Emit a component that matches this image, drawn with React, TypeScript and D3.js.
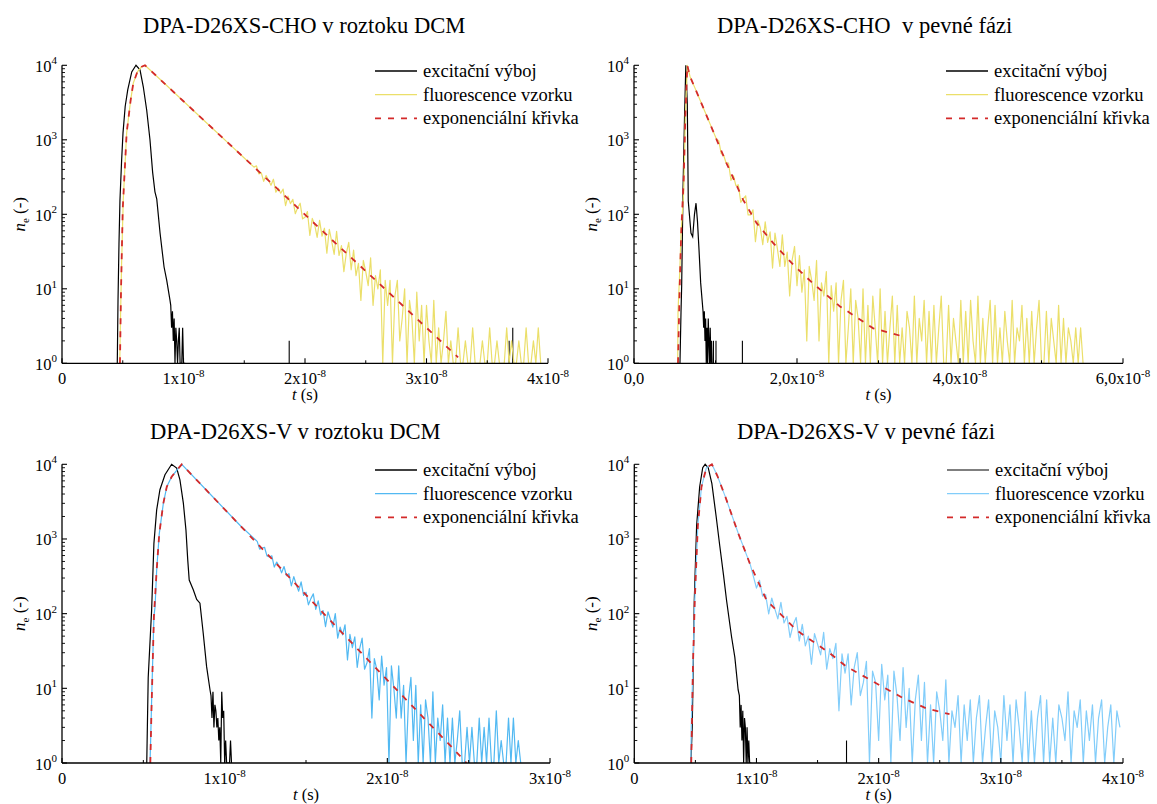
import React from "react";
import * as d3 from "d3";

type P = [number, number];

// ---------------- Panel 1: DPA-D26XS-CHO v roztoku DCM (time in ns) ----------------
const exc1Curve: P[] = [[4.55,1],[4.61,7],[4.69,40],[4.77,155],[4.9,500],[5.02,1230],[5.2,2800],[5.41,4680],[5.74,8150],[6.09,10000],[6.42,8700],[6.69,5150],[6.97,2510],[7.24,1000],[7.46,365],[7.65,200],[7.8,160],[8.07,56],[8.4,19.6],[8.62,13],[8.89,7]];
const exc1TailStart = 8.95, exc1TailStep = 0.07;
const exc1Tail = [6,3,5,2,4,0,3,2,0,2,3,0,1,0,3,0,1,0];
const exc1Spikes: P[] = [[18.7,2],[36.8,2],[37.1,3]];
const fluo1Curve: P[] = [[4.75,1],[4.8,3],[4.9,20],[5.04,155],[5.32,1230],[5.65,3400],[5.87,5780],[6.2,8140],[6.56,9560],[6.83,10000],[8,6650],[10,3290],[12,1630],[14,810],[15,570],[15.8,430]];
const fluo1TailStart = 16.0, fluo1TailStep = 0.2;
const fluo1Tail = [448,349,361,277,332,286,245,296,198,223,192,218,131,175,139,159,102,123,141,87,91,109,52,88,72,49,83,51,65,30,63,43,29,59,28,38,17,30,42,18,
  33,15,22,7,24,17,11,26,6,15,10,18,0,13,6,13,1,8,13,2,4,10,0,7,4,0,9,2,6,0,6,2,0,7,0,3,0,2,5,0,
  2,0,1,3,0,0,2,1,0,3,0,1,0,2,0,0,3,1,0,2,0,0,1,3,0,2,0,0,2,0,1,3,0,0,2,0,3,0];
const fit1: P[] = [[4.77,1],[4.86,10],[5.0,120],[5.32,1230],[5.65,3400],[5.87,5780],[6.2,8140],[6.56,9560],[6.83,10000],[10,3290],[14,810],[18,200],[22,49],[26,12.2],[30,3.0],[32.6,1.2]];

// ---------------- Panel 2: DPA-D26XS-CHO v pevné fázi ----------------
const exc2Curve: P[] = [[5.64,1],[5.77,5],[5.85,11],[6.01,200],[6.2,2000],[6.36,10000],[6.54,3000],[6.66,150],[6.99,56],[7.2,50],[7.42,100],[7.61,141],[7.79,80],[7.98,33],[8.18,12],[8.47,5]];
const exc2TailStart = 8.55, exc2TailStep = 0.08;
const exc2Tail = [3,5,2,4,1,3,0,4,2,1,3,0,2,0,1];
const exc2Spikes: P[] = [[9.75,2],[10.06,2],[13.3,2]];
const fluo2Curve: P[] = [[5.36,1],[5.4,5],[5.64,20],[5.77,56],[6.1,200],[6.3,2000],[6.54,10000],[6.87,7080],[7.5,4900],[8.5,2700],[9.5,1480],[10.15,1000]];
const fluo2TailStart = 10.4, fluo2TailStep = 0.3;
const fluo2Tail = [976,653,621,489,485,286,330,242,249,145,161,177,98,98,115,43,83,66,39,79,42,58,19,56,34,20,53,20,31,8,24,37,11,28,9,18,2,20,13,7,
  24,2,12,8,17,0,11,5,12,0,7,13,1,3,10,0,7,4,0,10,1,6,0,8,3,0,10,0,5,0,3,8,0,
  6,0,3,0,5,3,0,8,0,4,2,7,0,5,1,6,0,3,8,0,1,6,0,4,2,0,7,1,5,0,7,2,0,8,0,4,0,3,7,0,
  6,0,3,0,5,2,0,7,0,3,2,6,0,4,1,5,0,3,7,0,1,5,0,4,2,0,6,1,4,0,3,2,0,3,0,3,0];
const fit2: P[] = [[5.4,1],[5.6,10],[5.8,60],[6.1,300],[6.3,2000],[6.54,10000],[6.87,7080],[7.5,4900],[8.5,2700],[9.5,1480],[10.15,1000],[11.37,480],[13.41,155],[15.05,76],[17.09,41],[19.55,21],[22,11.7],[25.28,5.8],[29.36,2.95],[32.64,2.35]];

// ---------------- Panel 3: DPA-D26XS-V v roztoku DCM ----------------
const exc3Curve: P[] = [[5.21,1],[5.3,14],[5.51,112],[5.65,870],[5.82,2450],[6.02,4570],[6.33,7240],[6.74,10000],[7.05,8900],[7.25,6170],[7.46,3020],[7.62,1320],[7.73,525],[7.82,282],[8.07,209],[8.28,155],[8.48,138],[8.68,55],[8.89,19.5],[9.1,9.5]];
const exc3TailStart = 9.16, exc3TailStep = 0.06;
const exc3Tail = [8,4,9,3,6,5,3,4,2,3,1,9,4,5,0,2,0,0,0,0,2,0];
const exc3Spikes: P[] = [];
const fluo3Curve: P[] = [[5.41,1],[5.45,2],[5.51,7],[5.65,91],[5.72,123],[5.82,382],[5.98,1180],[6.23,3000],[6.44,5000],[6.74,6800],[7.05,8300],[7.36,10000],[9,4220],[11,1480]];
const fluo3TailStart = 12.0, fluo3TailStep = 0.15;
const fluo3Tail = [929,731,756,774,594,575,596,420,491,430,352,428,322,343,236,313,245,200,267,176,193,131,159,184,114,148,96,110,67,106,84,66,100,47,66,52,71,24,53,35,
  49,19,34,47,18,22,34,4,25,18,7,27,11,19,1,20,10,4,20,4,11,0,7,14,2,11,1,6,0,7,4,1,9,0,4,2,6,0,4,1,4,0,2,5,0,1,3,
  0,3,1,0,4,0,3,0,4,1,0,5,0,2,0,1,4,0,4,0,2,0];
const fit3: P[] = [[5.43,1],[5.5,5],[5.65,91],[5.82,382],[5.98,1180],[6.23,3000],[6.44,5000],[6.74,6800],[7.05,8300],[7.36,10000],[12,870],[16,105],[20,12.9],[24,1.6],[24.87,1]];

// ---------------- Panel 4: DPA-D26XS-V v pevné fázi ----------------
const exc4Curve: P[] = [[4.63,1],[4.74,3],[4.91,150],[5.1,1500],[5.35,5000],[5.6,9000],[5.8,10000],[6.05,9000],[6.35,5500],[6.7,2000],[7.0,800],[7.3,330],[7.55,151],[7.96,49],[8.23,26],[8.5,9.5]];
const exc4TailStart = 8.6, exc4TailStep = 0.07;
const exc4Tail = [8,3,6,2,5,1,4,3,0,3,0,2,1,0,0];
const exc4Spikes: P[] = [[17.37,2]];
const fluo4Curve: P[] = [[4.63,1],[4.66,3],[4.8,20],[4.95,150],[5.2,1500],[5.5,5000],[5.9,9000],[6.35,10000],[6.8,7000],[7.5,3500],[8.5,1200],[9.5,450]];
const fluo4TailStart = 10.0, fluo4TailStep = 0.25;
const fluo4Tail = [220,280,171,180,99,162,116,85,142,75,92,48,71,89,43,72,37,50,21,54,39,28,56,18,34,25,40,5,29,16,29,6,19,30,8,12,23,0,17,12,
  2,21,7,15,0,17,8,2,19,3,10,0,7,15,2,12,1,6,0,9,5,2,13,
  0,5,3,8,0,6,2,7,0,4,8,1,3,7,0,5,3,0,8,2,6,0,7,3,1,9,1,5,0,4,8,1,7,1,4,0,6,4,2,9,0,5,3,7,0,5,2,6,0,4,7,1,3,6,0,5,3];
const fit4: P[] = [[4.66,1],[4.8,20],[4.95,150],[5.2,1500],[5.5,5000],[5.9,9000],[6.35,10000],[6.8,7000],[7.5,3500],[8.5,1200],[9.5,450],[10.83,151],[13.28,60],[16.0,29.5],[17.37,19.5],[20.09,11],[22.0,7.4],[23.9,5.4],[25.8,4.5]];

// ---------------- texts ----------------
const titles = ["DPA-D26XS-CHO v roztoku DCM", "DPA-D26XS-CHO\u00a0 v pevné fázi", "DPA-D26XS-V v roztoku DCM", "DPA-D26XS-V v pevné fázi"];
const legendLabels = ["excitační výboj", "fluorescence vzorku", "exponenciální křivka"];
const yTickExps = [0, 1, 2, 3, 4];
const xTicks1 = [0, 10, 20, 30, 40];
const xTickLabels1 = [["0", ""], ["1x10", "-8"], ["2x10", "-8"], ["3x10", "-8"], ["4x10", "-8"]];
const xTicks2 = [0, 20, 40, 60];
const xTickLabels2 = [["0,0", ""], ["2,0x10", "-8"], ["4,0x10", "-8"], ["6,0x10", "-8"]];
const xTicks3 = [0, 10, 20, 30];
const xTickLabels3 = [["0", ""], ["1x10", "-8"], ["2x10", "-8"], ["3x10", "-8"]];

const FONT = "'Liberation Serif', 'Times New Roman', Times, serif";

function build(curve: P[], start: number, step: number, tail: number[]): P[] {
  return curve.concat(tail.map((v, i) => [start + i * step, v] as P));
}

interface PanelCfg {
  id: string;
  x0: number; x1: number; xMax: number;
  yTop: number; yBot: number;
  majors: number[]; labels: string[][]; minors: number[];
  title: string; titleX: number; titleY: number;
  exc: P[]; excSpikes: P[]; fluo: P[]; fit: P[];
  fluoColor: string; excLegendColor: string;
  legX: number; legY: number;
}

function Panel({ c }: { c: PanelCfg }) {
  const x = d3.scaleLinear().domain([0, c.xMax]).range([c.x0, c.x1]);
  const y = d3.scaleLog().domain([1, 10000]).range([c.yBot, c.yTop]);
  const line = d3.line<P>().x(d => x(d[0])).y(d => y(Math.max(d[1], 1)));
  const minorY: number[] = [];
  for (let e = 0; e < 4; e++) for (let k = 2; k <= 9; k++) minorY.push(k * Math.pow(10, e));
  const midX = (c.x0 + c.x1) / 2;
  const midY = (c.yTop + c.yBot) / 2;
  return (
    <g fontFamily={FONT}>
      <defs>
        <clipPath id={`clip-${c.id}`}>
          <rect x={c.x0} y={c.yTop - 4} width={c.x1 - c.x0} height={c.yBot - c.yTop + 4} />
        </clipPath>
      </defs>
      <text x={c.titleX} y={c.titleY} fontSize={22.6} fill="#000">{c.title}</text>
      <g clipPath={`url(#clip-${c.id})`}>
        <path d={line(c.exc) || ""} fill="none" stroke="#000" strokeWidth={1.2} />
        {c.excSpikes.map((s, i) => (
          <line key={i} x1={x(s[0])} x2={x(s[0])} y1={y(1)} y2={y(s[1])} stroke="#000" strokeWidth={1.1} />
        ))}
        <path d={line(c.fluo) || ""} fill="none" stroke={c.fluoColor} strokeWidth={1.2} strokeLinejoin="round" />
        <path d={line(c.fit) || ""} fill="none" stroke="#d42a2a" strokeWidth={1.8} strokeDasharray="6,7" />
      </g>
      <line x1={c.x0} x2={c.x0} y1={c.yTop} y2={c.yBot} stroke="#000" strokeWidth={1.3} />
      <line x1={c.x0} x2={c.x1} y1={c.yBot} y2={c.yBot} stroke="#000" strokeWidth={1.3} />
      {yTickExps.map(e => (
        <g key={e}>
          <line x1={c.x0} x2={c.x0 + 5} y1={y(Math.pow(10, e))} y2={y(Math.pow(10, e))} stroke="#000" strokeWidth={1.1} />
          <text x={c.x0 - 5} y={y(Math.pow(10, e)) + 6.5} textAnchor="end" fontSize={16.5}>
            10<tspan dy={-7.5} fontSize={11}>{e}</tspan>
          </text>
        </g>
      ))}
      {minorY.map((v, i) => (
        <line key={i} x1={c.x0} x2={c.x0 + 3} y1={y(v)} y2={y(v)} stroke="#000" strokeWidth={0.9} />
      ))}
      {c.majors.map((t, i) => (
        <g key={t}>
          <line x1={x(t)} x2={x(t)} y1={c.yBot} y2={c.yBot - 5} stroke="#000" strokeWidth={1.1} />
          <text x={x(t)} y={c.yBot + 20.5} textAnchor="middle" fontSize={16.5}>
            {c.labels[i][0]}
            {c.labels[i][1] ? <tspan dy={-7} fontSize={11}>{c.labels[i][1]}</tspan> : null}
          </text>
        </g>
      ))}
      {c.minors.map(t => (
        <line key={t} x1={x(t)} x2={x(t)} y1={c.yBot} y2={c.yBot - 3} stroke="#000" strokeWidth={1} />
      ))}
      <text x={midX} y={c.yBot + 37} textAnchor="middle" fontSize={16.5}>
        <tspan fontStyle="italic">t</tspan> (s)
      </text>
      <text transform={`translate(${c.x0 - 37},${midY}) rotate(-90)`} textAnchor="middle" fontSize={17}>
        <tspan fontStyle="italic">n</tspan><tspan fontSize={11} dy={4}>e</tspan><tspan dy={-4}> (-)</tspan>
      </text>
      {[0, 1, 2].map(i => {
        const ly = c.legY + i * 23.7;
        const col = i === 0 ? c.excLegendColor : i === 1 ? c.fluoColor : "#d42a2a";
        return (
          <g key={i}>
            <line x1={c.legX} x2={c.legX + 42} y1={ly} y2={ly} stroke={col} strokeWidth={i === 2 ? 1.8 : 1.3}
              strokeDasharray={i === 2 ? "6,7" : undefined} />
            <text x={c.legX + 48} y={ly + 6} fontSize={18.5}>{legendLabels[i]}</text>
          </g>
        );
      })}
    </g>
  );
}

const YELLOW = "#ebdf6a";
const BLUE3 = "#52b9f2";
const BLUE4 = "#82cdfa";

export default function App() {
  const panels: PanelCfg[] = [
    {
      id: "p1", x0: 62, x1: 548, xMax: 40, yTop: 65.3, yBot: 363.3,
      majors: xTicks1, labels: xTickLabels1, minors: [5, 15, 25, 35],
      title: titles[0], titleX: 143, titleY: 33,
      exc: build(exc1Curve, exc1TailStart, exc1TailStep, exc1Tail), excSpikes: exc1Spikes,
      fluo: build(fluo1Curve, fluo1TailStart, fluo1TailStep, fluo1Tail), fit: fit1,
      fluoColor: YELLOW, excLegendColor: "#000", legX: 375, legY: 71,
    },
    {
      id: "p2", x0: 634, x1: 1123, xMax: 60, yTop: 65.3, yBot: 363.3,
      majors: xTicks2, labels: xTickLabels2, minors: [10, 30, 50],
      title: titles[1], titleX: 717, titleY: 33,
      exc: build(exc2Curve, exc2TailStart, exc2TailStep, exc2Tail), excSpikes: exc2Spikes,
      fluo: build(fluo2Curve, fluo2TailStart, fluo2TailStep, fluo2Tail), fit: fit2,
      fluoColor: YELLOW, excLegendColor: "#000", legX: 946, legY: 71,
    },
    {
      id: "p3", x0: 62, x1: 550, xMax: 30, yTop: 464.3, yBot: 763,
      majors: xTicks3, labels: xTickLabels3, minors: [5, 15, 25],
      title: titles[2], titleX: 150, titleY: 439,
      exc: build(exc3Curve, exc3TailStart, exc3TailStep, exc3Tail), excSpikes: exc3Spikes,
      fluo: build(fluo3Curve, fluo3TailStart, fluo3TailStep, fluo3Tail), fit: fit3,
      fluoColor: BLUE3, excLegendColor: "#000", legX: 375, legY: 470,
    },
    {
      id: "p4", x0: 634.3, x1: 1123, xMax: 40, yTop: 464.3, yBot: 763,
      majors: xTicks1, labels: xTickLabels1, minors: [5, 15, 25, 35],
      title: titles[3], titleX: 737, titleY: 439,
      exc: build(exc4Curve, exc4TailStart, exc4TailStep, exc4Tail), excSpikes: exc4Spikes,
      fluo: build(fluo4Curve, fluo4TailStart, fluo4TailStep, fluo4Tail), fit: fit4,
      fluoColor: BLUE4, excLegendColor: "#555", legX: 947, legY: 470,
    },
  ];
  return (
    <svg width={1157} height={804} style={{ position: "absolute", left: 0, top: 0, background: "#fff" }}>
      <rect x={0} y={0} width={1157} height={804} fill="#fff" />
      {panels.map(p => <Panel key={p.id} c={p} />)}
    </svg>
  );
}
